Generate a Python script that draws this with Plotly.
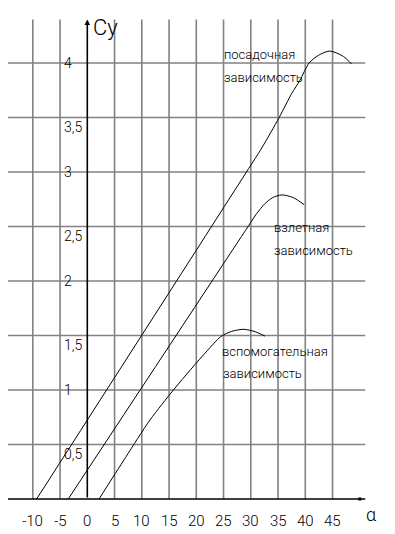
import plotly.graph_objects as go

# ---- data ----
grid_x = [-10, -5, 0, 5, 10, 15, 20, 25, 30, 35, 40, 45]
grid_y = [0.5, 1, 1.5, 2, 2.5, 3, 3.5, 4]
x_tick_labels = ["-10", "-5", "0", "5", "10", "15", "20", "25", "30", "35", "40", "45"]
y_tick_labels = ["0,5", "1", "1,5", "2", "2,5", "3", "3,5", "4"]

landing_x = [-9.3, 29.2, 32, 35.2, 37.5, 39, 40.7, 42.4, 44.5, 47, 48.5]
landing_y = [0, 3.0, 3.22, 3.5, 3.72, 3.84, 4.0, 4.07, 4.11, 4.06, 3.99]

takeoff_x = [-3.5, 29.5, 31.1, 32.6, 34.0, 35.7, 37.8, 39.8]
takeoff_y = [0, 2.5, 2.62, 2.71, 2.765, 2.79, 2.765, 2.70]

aux_x = [2.15, 7.0, 11.5, 15.8, 19.0, 22.0, 24.5, 26.5, 28.7, 30.8, 32.6]
aux_y = [0, 0.38, 0.725, 1.0, 1.19, 1.36, 1.49, 1.538, 1.557, 1.535, 1.495]

# ---- layout constants (page has an 8px body margin) ----
X_RANGE = [-14.55, 56.46]
Y_RANGE = [-0.321, 4.505]
GRID_LEFT, GRID_RIGHT, GRID_TOP = -16.1, 51.0, 4.40
FONT = "Roboto, Liberation Sans Narrow, sans-serif"
GRID_COLOR = "#828282"

fig = go.Figure()

for xs, ys in [(landing_x, landing_y), (takeoff_x, takeoff_y), (aux_x, aux_y)]:
    fig.add_trace(go.Scatter(x=xs, y=ys, mode="lines",
                             line=dict(color="black", width=1, shape="spline", smoothing=0.8),
                             hoverinfo="skip", showlegend=False, cliponaxis=False))

shapes = []
for gx in grid_x:
    if gx == 0:
        continue
    shapes.append(dict(type="line", xref="x", yref="y", x0=gx, x1=gx, y0=0, y1=GRID_TOP,
                       line=dict(color=GRID_COLOR, width=1.6), layer="below"))
for gy in grid_y:
    shapes.append(dict(type="line", xref="x", yref="y", x0=GRID_LEFT, x1=GRID_RIGHT, y0=gy, y1=gy,
                       line=dict(color=GRID_COLOR, width=1.6), layer="below"))
# x axis
shapes.append(dict(type="line", xref="x", yref="y", x0=GRID_LEFT, x1=GRID_RIGHT, y0=0, y1=0,
                   line=dict(color="black", width=1.6)))

annotations = []
# y axis with arrow
annotations.append(dict(x=0, y=GRID_TOP, xref="x", yref="y", ax=0, ay=0, axref="x", ayref="y",
                        showarrow=True, arrowhead=2, arrowsize=0.7, arrowwidth=1.6,
                        arrowcolor="black", text=""))
# end marker on x axis
fig.add_trace(go.Scatter(x=[50], y=[0], mode="markers",
                         marker=dict(symbol="square", size=3, color="black"),
                         hoverinfo="skip", showlegend=False))

for gx, t in zip(grid_x, x_tick_labels):
    annotations.append(dict(x=gx, y=-0.20, xref="x", yref="y", text=t, showarrow=False,
                            xanchor="center", yanchor="middle",
                            font=dict(family=FONT, size=15, color="black", weight=300)))
for gy, t in zip(grid_y, y_tick_labels):
    shift = 0 if float(gy).is_integer() else -9
    annotations.append(dict(x=-4.6, y=gy, xref="x", yref="y", text=t, showarrow=False,
                            xanchor="left", yanchor="middle", yshift=shift,
                            font=dict(family=FONT, size=14, color="black", weight=300)))

annotations.append(dict(x=0.6, y=4.33, xref="x", yref="y", text="Cy", showarrow=False,
                        xanchor="left", yanchor="middle",
                        font=dict(family=FONT, size=22, color="black", weight=300)))
annotations.append(dict(x=52.2, y=-0.14, xref="x", yref="y", text="α", showarrow=False,
                        xanchor="center", yanchor="middle",
                        font=dict(family=FONT, size=18, color="black", weight=300)))

labels = [
    ("посадочная", 24.75, 4.08), ("зависимость", 24.75, 3.87),
    ("взлетная", 33.9, 2.49), ("зависимость", 33.9, 2.28),
    ("вспомогательная", 24.35, 1.35), ("зависимость", 24.5, 1.156),
]
for t, lx, ly in labels:
    annotations.append(dict(x=lx, y=ly, xref="x", yref="y", text=t, showarrow=False,
                            xanchor="left", yanchor="middle",
                            font=dict(family=FONT, size=13, color="black", weight=300)))

fig.update_layout(
    width=387, height=526,
    margin=dict(l=0, r=0, t=0, b=0, pad=0),
    paper_bgcolor="white", plot_bgcolor="white",
    xaxis=dict(range=X_RANGE, visible=False, fixedrange=True),
    yaxis=dict(range=Y_RANGE, visible=False, fixedrange=True),
    shapes=shapes, annotations=annotations,
)

fig.write_html("out.html")
